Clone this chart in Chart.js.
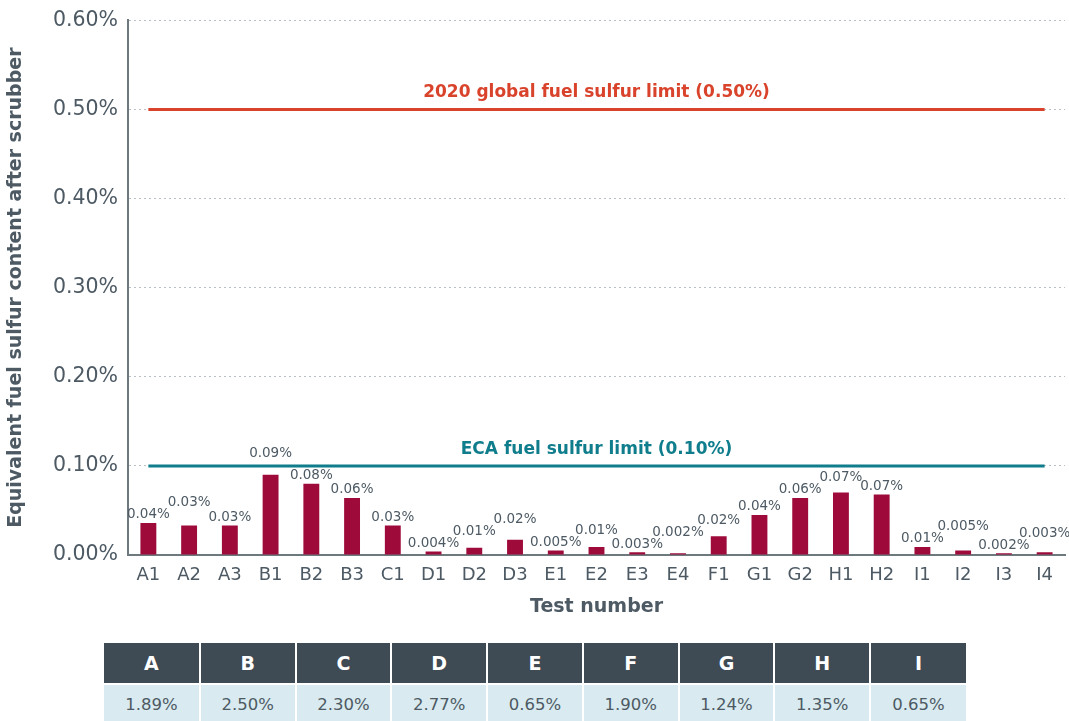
<!DOCTYPE html>
<html>
<head>
<meta charset="utf-8">
<script src="https://cdn.jsdelivr.net/npm/chart.js@4.4.1/dist/chart.umd.min.js"></script>
<style>
  body { margin: 0; background: #fff; width: 1069px; height: 721px; overflow: hidden; position: relative; }
  #wrap { position: absolute; left: 0; top: -2px; width: 1069px; height: 632px; }
  #fuelTable { position: absolute; left: 104px; top: 643px; width: 862px; border-collapse: collapse; table-layout: fixed; font-family: "DejaVu Sans", sans-serif; }
  #fuelTable th { background: #3e4a54; color: #fff; font-size: 19px; font-weight: bold; height: 40px; padding: 0; border-right: 2px solid #fff; border-bottom: 2px solid #fff; }
  #fuelTable td { background: #d9ebf0; color: #4d5a64; font-size: 16.5px; height: 38px; padding: 0 0 2px 0; text-align: center; border-right: 2px solid #fff; }
  #fuelTable th:last-child, #fuelTable td:last-child { border-right: none; }
</style>
</head>
<body>
<div id="wrap"><canvas id="sulfurChart"></canvas></div>
<table id="fuelTable"><tr id="headRow"></tr><tr id="valRow"></tr></table>
<script>
// test points
const testNames = ['A1','A2','A3','B1','B2','B3','C1','D1','D2','D3','E1','E2','E3','E4','F1','G1','G2','H1','H2','I1','I2','I3','I4'];
// equivalent fuel sulfur content after scrubber (%)
const sulfurAfter = [0.036,0.033,0.033,0.090,0.080,0.064,0.033,0.004,0.008,0.017,0.005,0.009,0.003,0.002,0.021,0.045,0.064,0.070,0.068,0.009,0.005,0.002,0.003];
const barLabels = ['0.04%','0.03%','0.03%','0.09%','0.08%','0.06%','0.03%','0.004%','0.01%','0.02%','0.005%','0.01%','0.003%','0.002%','0.02%','0.04%','0.06%','0.07%','0.07%','0.01%','0.005%','0.002%','0.003%'];
// regulatory limits
const globalLimit = 0.5;
const ecaLimit = 0.1;
const globalLabel = '2020 global fuel sulfur limit (0.50%)';
const ecaLabel = 'ECA fuel sulfur limit (0.10%)';
const yTicks = [0, 0.1, 0.2, 0.3, 0.4, 0.5, 0.6];
// fuel sulfur content before scrubber, per test group
const fuelGroups = ['A','B','C','D','E','F','G','H','I'];
const fuelSulfur = ['1.89%','2.50%','2.30%','2.77%','0.65%','1.90%','1.24%','1.35%','0.65%'];

const textGray = '#4d5a64';
const axisGray = '#6e787f';
const barRed = '#9e0b3a';
const limitRed = '#d9432b';
const limitTeal = '#0f7d8c';

// table
const headRow = document.getElementById('headRow');
const valRow = document.getElementById('valRow');
fuelGroups.forEach((g, i) => {
  const th = document.createElement('th'); th.textContent = g; headRow.appendChild(th);
  const td = document.createElement('td'); td.textContent = fuelSulfur[i]; valRow.appendChild(td);
});

// bar value labels, staggered so neighbours don't collide, plus limit captions
const labelPlugin = {
  id: 'labelPlugin',
  afterDatasetsDraw(chart) {
    const ctx = chart.ctx;
    const ys = chart.scales.y;
    const area = chart.chartArea;
    const meta = chart.getDatasetMeta(0);
    const ecaY = ys.getPixelForValue(ecaLimit);
    ctx.save();
    ctx.font = '13.5px "DejaVu Sans"';
    ctx.fillStyle = textGray;
    ctx.textAlign = 'center';
    ctx.textBaseline = 'middle';
    let prev = null;
    meta.data.forEach((bar, i) => {
      let y = bar.y - 8;
      if (Math.abs(y - ecaY) < 9) y = ecaY - 12;
      if (prev !== null && Math.abs(y - prev) < 8) y = prev - 12;
      ctx.fillText(barLabels[i], bar.x, y);
      prev = y;
    });
    const cx = (area.left + area.right) / 2;
    ctx.font = 'bold 17px "DejaVu Sans"';
    ctx.fillStyle = limitRed;
    ctx.fillText(globalLabel, cx, ys.getPixelForValue(globalLimit) - 17);
    ctx.fillStyle = limitTeal;
    ctx.fillText(ecaLabel, cx, ecaY - 16);
    ctx.restore();
  }
};

new Chart(document.getElementById('sulfurChart'), {
  data: {
    labels: testNames,
    datasets: [
      {
        type: 'bar',
        data: sulfurAfter,
        backgroundColor: barRed,
        barPercentage: 0.39,
        categoryPercentage: 1.0,
        order: 2
      },
      {
        type: 'line',
        data: testNames.map(() => globalLimit),
        borderColor: limitRed,
        borderWidth: 3,
        pointRadius: 0,
        order: 1
      },
      {
        type: 'line',
        data: testNames.map(() => ecaLimit),
        borderColor: limitTeal,
        borderWidth: 3,
        pointRadius: 0,
        order: 1
      }
    ]
  },
  options: {
    responsive: true,
    maintainAspectRatio: false,
    animation: false,
    layout: { padding: { top: 17, right: 4, bottom: 0, left: 0 } },
    plugins: { legend: { display: false }, tooltip: { enabled: false } },
    scales: {
      x: {
        offset: true,
        grid: { display: false, drawTicks: false },
        border: { color: axisGray, width: 2 },
        ticks: { color: textGray, font: { family: 'DejaVu Sans', size: 18 }, padding: 10, maxRotation: 0, autoSkip: false },
        title: { display: true, text: 'Test number', color: textGray, font: { family: 'DejaVu Sans', size: 19, weight: 'bold' }, padding: { top: 0, bottom: 12 } },
        afterFit(scale) { scale.height = 75; }
      },
      y: {
        min: 0,
        max: 0.6,
        afterBuildTicks(scale) { scale.ticks = yTicks.map(v => ({ value: v })); },
        grid: { color: '#b9bfc4', lineWidth: 1, drawTicks: false },
        border: { color: axisGray, width: 2, dash: [2, 3] },
        ticks: { color: textGray, font: { family: 'DejaVu Sans', size: 20.5 }, padding: 10, callback: v => v.toFixed(2) + '%' },
        title: { display: true, text: 'Equivalent fuel sulfur content after scrubber', color: textGray, font: { family: 'DejaVu Sans', size: 19, weight: 'bold' }, padding: { top: 5, bottom: 0 } },
        afterFit(scale) { scale.width = 128; }
      }
    }
  },
  plugins: [labelPlugin]
});
</script>
</body>
</html>
